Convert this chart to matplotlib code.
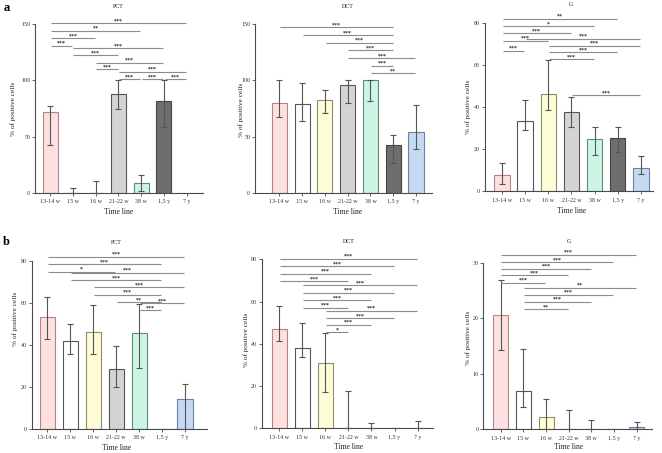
import matplotlib
matplotlib.use('Agg')
import matplotlib.pyplot as plt
import matplotlib.transforms as mtransforms

plt.rcParams['font.family'] = ['Liberation Serif', 'DejaVu Serif']

categories = ['13-14 w', '15 w', '16 w', '21-22 w', '38 w', '1,5 y', '7 y']
fill_colors = ['#fde0e0', '#ffffff', '#fefdd8', '#d4d4d4', '#cdf5e4', '#6e6e6e', '#c6d9f2']
edge_colors = ['#b58585', '#555555', '#8f8f66', '#555555', '#5d8c7a', '#444444', '#6d829e']

# ---------------- panel a ----------------
a_pct_val = [72, 0, 0, 87.6, 9.2, 81.7, 0]
a_pct_lo = [42.5, 0, 0, 75, 2, 59, None]
a_pct_hi = [77.5, 4.5, 11, 100, 16.3, 100, None]
a_pct_pairs = [(0, 6), (0, 4), (0, 2), (0, 1), (1, 5), (1, 3), (2, 5), (2, 3), (3, 6), (3, 4), (4, 5), (5, 6)]
a_pct_marks = ['***', '**', '***', '***', '***', '***', '***', '***', '***', '***', '***', '***']
a_pct_levels = [150.6, 144.2, 137.3, 130.8, 128.7, 122.2, 115.7, 109.8, 107.7, 101.2, 101.2, 101.2]

a_dct_val = [80.2, 79, 82.3, 95.9, 100, 42.8, 53.8]
a_dct_lo = [67.7, 63.6, 71.3, 79.6, 82, 26.7, 39.2]
a_dct_hi = [100, 98, 91.2, 100, 100, 51.1, 77.8]
a_dct_pairs = [(0, 5), (1, 5), (2, 5), (3, 5), (3, 6), (4, 5), (4, 6)]
a_dct_marks = ['***', '***', '***', '***', '***', '***', '**']
a_dct_levels = [147.0, 140.2, 133.4, 126.6, 119.8, 113.0, 106.2]

a_g_val = [7.6, 33.2, 46.3, 37.5, 25, 25.3, 10.9]
a_g_lo = [3.5, 28.9, 38.4, 30.5, 17.1, 18.5, 8.1]
a_g_hi = [13.3, 43.3, 62.1, 44.9, 30.5, 30.7, 16.8]
a_g_pairs = [(0, 5), (0, 4), (0, 3), (1, 6), (0, 2), (2, 6), (0, 1), (2, 5), (2, 4), (3, 6)]
a_g_marks = ['**', '*', '***', '***', '***', '***', '***', '***', '***', '***']
a_g_levels = [81.9, 78.4, 74.9, 72.4, 71.4, 69.0, 66.8, 65.9, 62.7, 45.6]

# ---------------- panel b ----------------
b_pct_val = [53.2, 42, 46.3, 28.5, 45.5, 0, 14.1]
b_pct_lo = [42.8, 35.8, 35.5, 19.8, 28.8, None, 0]
b_pct_hi = [62.6, 49.9, 58.8, 39.3, 59.2, None, 21.4]
b_pct_pairs = [(0, 6), (0, 5), (0, 3), (1, 6), (1, 5), (2, 6), (2, 5), (3, 5), (4, 6), (4, 5)]
b_pct_marks = ['***', '***', '*', '***', '***', '***', '***', '**', '***', '***']
b_pct_levels = [81.8, 78.3, 74.8, 74.3, 70.8, 67.3, 63.8, 60.3, 59.8, 56.5]

b_dct_val = [46.9, 38, 30.8, 0, 0, 0, 0]
b_dct_lo = [41.2, 33.6, 17.4, 0, 0, None, 0]
b_dct_hi = [58.1, 49.7, 45, 17.8, 2.5, None, 3.3]
b_dct_pairs = [(0, 6), (0, 5), (0, 4), (0, 3), (1, 6), (1, 5), (1, 4), (1, 3), (2, 6), (2, 5), (2, 4), (2, 3)]
b_dct_marks = ['***', '***', '***', '***', '***', '***', '***', '***', '***', '***', '***', '*']
b_dct_levels = [80.3, 76.7, 73.2, 69.7, 67.7, 64.1, 60.6, 57.1, 55.7, 52.2, 49.1, 45.6]

b_g_val = [20.5, 6.9, 2.2, 0, 0, 0, 0.5]
b_g_lo = [14.2, 4.1, 0, 0, 0, None, 0]
b_g_hi = [26.8, 14.5, 5.5, 3.4, 1.6, None, 1.4]
b_g_pairs = [(0, 6), (0, 5), (0, 4), (0, 3), (0, 2), (1, 6), (1, 5), (1, 4), (1, 3)]
b_g_marks = ['***', '***', '***', '***', '***', '**', '***', '***', '**']
b_g_levels = [31.4, 30.1, 28.9, 27.7, 26.4, 25.5, 24.2, 23.0, 21.6]

titles = ['PCT', 'DCT', 'G', 'PCT', 'DCT', 'G']
ticks_list = [[0, 50, 100, 150], [0, 50, 100, 150], [0, 20, 40, 60, 80],
              [0, 20, 40, 60, 80], [0, 20, 40, 60, 80], [0, 10, 20, 30]]

W, H = 662, 453
fig = plt.figure(figsize=(W / 100, H / 100), dpi=100)

# layout in pixels: (x_left, x_right, y_px_top_tick, y_px_zero, xlim_left, xlim_right,
#                    title_y, xlabel_y, ylabel_x, ylabel_y)
layout = [
    (35, 203.3, 24, 193, -0.66, 6.73, 6, 212, 13.5, 109),
    (255, 431.7, 24, 193, -1.07, 6.69, 6, 212, 241.5, 110),
    (485, 653, 22.7, 191.3, -0.73, 6.52, 5, 211, 468, 107),
    (31.7, 206.7, 260.7, 429, -0.67, 6.94, 243, 448, 15, 319),
    (261.7, 433.3, 259.3, 428.3, -0.76, 6.68, 242, 447, 246.5, 340),
    (483.3, 651.7, 262.7, 429.3, -0.77, 6.66, 241, 447, 468, 338),
]

data = [
    (a_pct_val, a_pct_lo, a_pct_hi, a_pct_pairs, a_pct_marks, a_pct_levels),
    (a_dct_val, a_dct_lo, a_dct_hi, a_dct_pairs, a_dct_marks, a_dct_levels),
    (a_g_val, a_g_lo, a_g_hi, a_g_pairs, a_g_marks, a_g_levels),
    (b_pct_val, b_pct_lo, b_pct_hi, b_pct_pairs, b_pct_marks, b_pct_levels),
    (b_dct_val, b_dct_lo, b_dct_hi, b_dct_pairs, b_dct_marks, b_dct_levels),
    (b_g_val, b_g_lo, b_g_hi, b_g_pairs, b_g_marks, b_g_levels),
]

axis_color = '#4a4a4a'
sig_color = '#8c8c8c'
x = list(range(len(categories)))

for k in range(6):
    xl, xr, ytop, y0, xlo, xhi, ty, xly, ylx, yly = layout[k]
    vals, lo, hi, pairs, marks, levels = data[k]
    ticks = ticks_list[k]
    ax = fig.add_axes([xl / W, 1 - y0 / H, (xr - xl) / W, (y0 - ytop) / H])
    ax.bar(x, vals, width=0.66, color=fill_colors, edgecolor=edge_colors,
           linewidth=0.8, zorder=2)
    for i in x:
        if hi[i] is None:
            continue
        ax.errorbar(i, vals[i], yerr=[[vals[i] - lo[i]], [hi[i] - vals[i]]],
                    fmt='none', ecolor='#555555', elinewidth=0.8, capsize=2.4,
                    capthick=0.8, zorder=3, clip_on=False)
    for (i, j), m, lv in zip(pairs, marks, levels):
        ax.plot([i + 0.03, j - 0.03], [lv, lv], color=sig_color, lw=0.8,
                clip_on=False, zorder=4, solid_capstyle='butt')
        ax.annotate(m, xy=((i + j) / 2, lv), xytext=(0, 0.6), textcoords='offset points',
                    ha='center', va='baseline', fontsize=4.2, fontweight='bold',
                    color='#222222', annotation_clip=False)
    ax.set_xlim(xlo, xhi)
    ax.set_ylim(0, ticks[-1])
    ax.set_yticks(ticks)
    ax.set_xticks(x)
    ax.set_xticklabels(categories)
    for s in ['top', 'right']:
        ax.spines[s].set_visible(False)
    for s in ['left', 'bottom']:
        ax.spines[s].set_color(axis_color)
        ax.spines[s].set_linewidth(0.8)
    ax.tick_params(axis='both', length=2, width=0.6, color=axis_color,
                   labelsize=4.3, pad=1.5, labelcolor='#333333')
    ax.tick_params(axis='x', pad=2.5)
    ax.patch.set_alpha(0)

    trans = mtransforms.blended_transform_factory(ax.transData, fig.transFigure)
    ax.text(3, 1 - ty / H, titles[k], transform=trans, ha='center', va='center',
            fontsize=4.3, color='#222222')
    ax.text(3, 1 - xly / H, 'Time line', transform=trans, ha='center', va='center',
            fontsize=5.5, color='#222222')
    fig.text(ylx / W, 1 - yly / H, '% of positive cells', rotation=90,
             ha='center', va='center', fontsize=5.2, color='#222222')

fig.text(6.5 / W, 1 - 8 / H, 'a', ha='center', va='center', fontsize=9, fontweight='bold')
fig.text(6 / W, 1 - 242 / H, 'b', ha='center', va='center', fontsize=9, fontweight='bold')

fig.savefig('out.png', dpi=100)
